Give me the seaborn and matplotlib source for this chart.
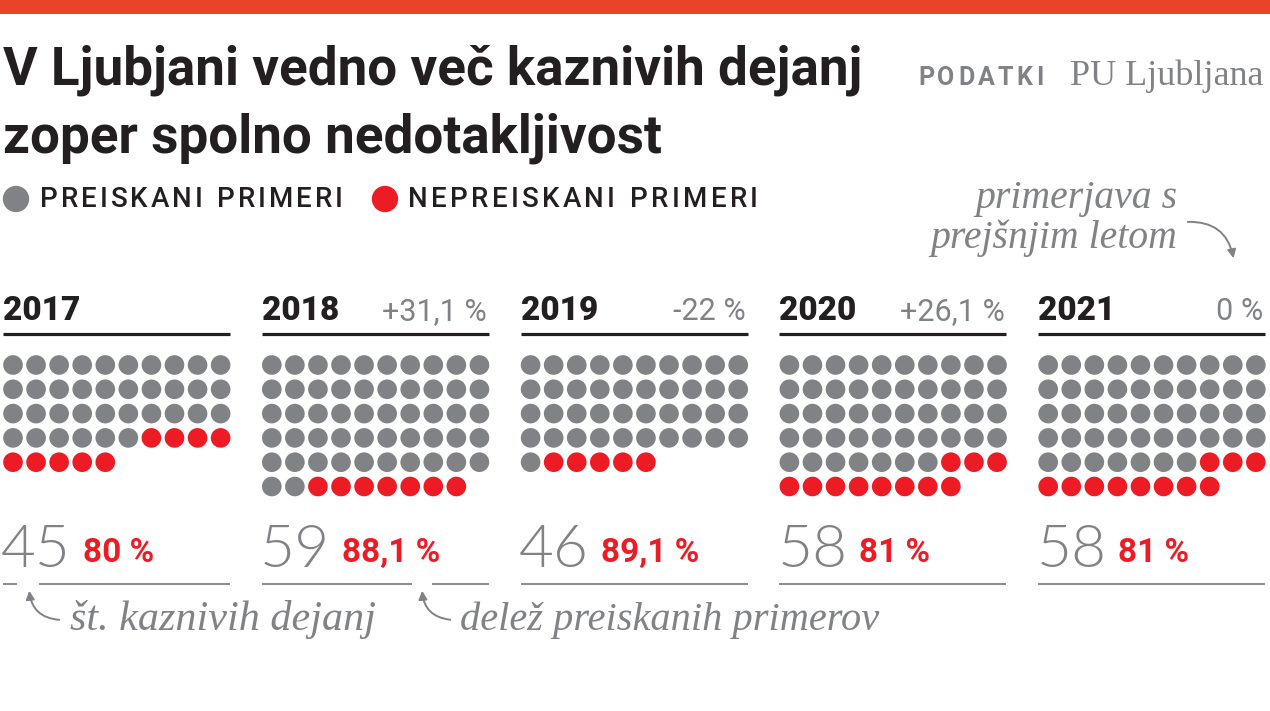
import matplotlib
matplotlib.use("Agg")
import matplotlib.pyplot as plt
import seaborn as sns
import pandas as pd
from matplotlib.patches import Rectangle, FancyArrowPatch

sns.set_theme(style="white")
plt.rcParams['font.family'] = ['Roboto', 'DejaVu Sans']

# ---------------- data ----------------
years = [2017, 2018, 2019, 2020, 2021]
totals = [45, 59, 46, 58, 58]
investigated = [36, 52, 41, 47, 47]
share_labels = ["80 %", "88,1 %", "89,1 %", "81 %", "81 %"]
change_labels = ["", "+31,1 %", "-22 %", "+26,1 %", "0 %"]
status_names = ["PREISKANI PRIMERI", "NEPREISKANI PRIMERI"]

# ---------------- style ----------------
GRAY = "#808285"
RED = "#ED1C24"
BLACK = "#231F20"
BAR = "#E9432A"

W, H = 1270, 711
fig = plt.figure(figsize=(W / 100, H / 100), dpi=100)
ax = fig.add_axes([0, 0, 1, 1])

# layout
panel_left0, panel_pitch, panel_w = 3, 258.8, 227
col_pitch, row_pitch, dot_off, row0 = 23.07, 24.3, 10, 365

rows = []
for i, (yr, tot, inv) in enumerate(zip(years, totals, investigated)):
    left = panel_left0 + i * panel_pitch
    for k in range(tot):
        rows.append({
            "year": yr,
            "x": left + dot_off + (k % 10) * col_pitch,
            "y": row0 + (k // 10) * row_pitch,
            "status": status_names[0] if k < inv else status_names[1],
        })
df = pd.DataFrame(rows)

sns.scatterplot(data=df, x="x", y="y", hue="status",
                palette={status_names[0]: GRAY, status_names[1]: RED},
                s=200, linewidth=0, legend=False, ax=ax)
ax.set_xlim(0, W)
ax.set_ylim(H, 0)
ax.axis("off")

# top bar
ax.add_patch(Rectangle((0, 0), W, 14, color=BAR, lw=0, zorder=0))

fig.canvas.draw()
renderer = fig.canvas.get_renderer()

def fit_text(x, y, s, target_w, size0, **kw):
    t = ax.text(x, y, s, fontsize=size0, **kw)
    w = t.get_window_extent(renderer).width
    t.set_fontsize(size0 * target_w / w)
    return t

def tracked_text(x, y, s, target_w, size, **kw):
    """Letter-spaced text: place characters one by one, spreading to target width."""
    widths = []
    for ch in s:
        if ch == " ":
            t = ax.text(0, 0, "n", fontsize=size, **kw)
            w = t.get_window_extent(renderer).width * 0.55
        else:
            t = ax.text(0, 0, ch, fontsize=size, **kw)
            w = t.get_window_extent(renderer).width
        t.remove()
        widths.append(w)
    extra = (target_w - sum(widths)) / max(len(s) - 1, 1)
    cx = x
    for ch, w in zip(s, widths):
        if ch != " ":
            ax.text(cx, y, ch, fontsize=size, ha="left", va="baseline", **kw)
        cx += w + extra

# title
t1 = fit_text(3, 85, "V Ljubjani vedno več kaznivih dejanj", 859, 36,
              fontweight="bold", color=BLACK, va="baseline", ha="left")
ax.text(3, 152, "zoper spolno nedotakljivost", fontsize=t1.get_fontsize(),
        fontweight="bold", color=BLACK, va="baseline", ha="left")

# source
ax.text(1263, 85, "PU Ljubljana", fontsize=26, family="Liberation Serif",
        color=GRAY, va="baseline", ha="right")
tracked_text(918, 85, "PODATKI", 125, 18, fontweight="bold", color=GRAY)

# legend
ax.scatter([16, 385], [199, 199], s=360, c=[GRAY, RED], linewidths=0)
tracked_text(40, 207, status_names[0], 303, 20, fontweight="medium", color=BLACK)
tracked_text(408, 207, status_names[1], 350, 20, fontweight="medium", color=BLACK)

# panels
for i, yr in enumerate(years):
    left = panel_left0 + i * panel_pitch
    right = left + panel_w
    ax.text(left, 320, str(yr), fontsize=24, fontweight="heavy", color=BLACK,
            va="baseline", ha="left")
    if change_labels[i]:
        ax.text(right - 2, 320, change_labels[i], fontsize=22, color=GRAY,
                va="baseline", ha="right")
    ax.plot([left, right], [334, 334], color=BLACK, lw=2.3, solid_capstyle="butt")
    fit_text(left - 2, 567, str(totals[i]), 70, 48, family=["Lato", "Roboto"],
             fontweight=300, color=GRAY, va="baseline", ha="left")
    ax.text(left + 80, 562, share_labels[i], fontsize=24, fontweight="bold",
            color=RED, va="baseline", ha="left")
    # bottom gray line, with gaps for annotation arrows
    if i == 0:
        segs = [(left, 17), (39, right)]
    elif i == 1:
        segs = [(left, 412), (432, right)]
    else:
        segs = [(left, right)]
    for a, b in segs:
        ax.plot([a, b], [584, 584], color=GRAY, lw=1.3, solid_capstyle="butt")

# annotations
ann_kw = dict(family="Liberation Serif", style="italic", color=GRAY,
              va="baseline")
fit_text(70, 630, "št. kaznivih dejanj", 306, 30, ha="left", **ann_kw)
fit_text(460, 630, "delež preiskanih primerov", 419, 30, ha="left", **ann_kw)
t = fit_text(1177, 248, "prejšnjim letom", 247, 28, ha="right", **ann_kw)
ax.text(1177, 208, "primerjava s", fontsize=t.get_fontsize(), ha="right", **ann_kw)

def arrow(p0, p1, rad):
    ax.add_patch(FancyArrowPatch(p0, p1, connectionstyle=f"arc3,rad={rad}",
                                 arrowstyle="-|>,head_length=5,head_width=2.5",
                                 color=GRAY, lw=1.4, mutation_scale=1))

arrow((62, 620), (29, 588), -0.45)
arrow((453, 620), (422, 588), -0.45)
arrow((1185, 222), (1234, 261), -0.45)

fig.savefig("out.png", dpi=100)
